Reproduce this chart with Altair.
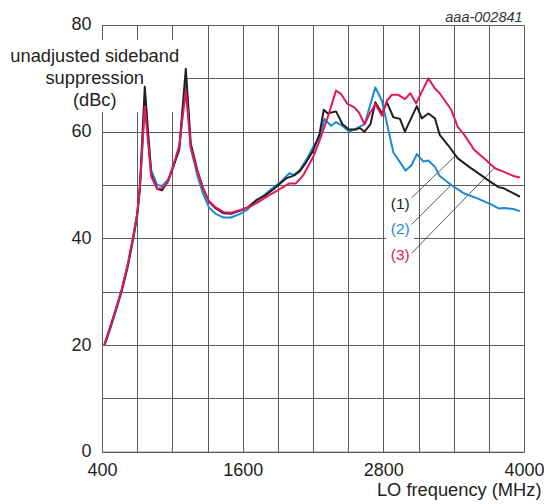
import altair as alt
import pandas as pd

FONT = "Liberation Sans"
INK = "#231f20"
GRID = "#5a5a5a"
C_BLACK = "#231f20"
C_BLUE = "#1a8bd0"
C_RED = "#e4175b"

# ---- series (1) black ----
BLACK_F = [420, 470, 520, 568, 620, 667, 700, 723, 765, 820, 871, 911, 961, 1010, 1059, 1115, 1157,
           1213, 1260, 1312, 1370, 1438, 1500, 1578, 1650, 1718, 1790, 1858, 1920, 1976, 2040, 2088,
           2140, 2200, 2256, 2292, 2326, 2396, 2452, 2508, 2564, 2598, 2640, 2690, 2732, 2788, 2830,
           2886, 2942, 2984, 3086, 3128, 3184, 3240, 3281, 3351, 3435, 3532, 3630, 3714, 3784, 3825,
           3895, 3965]
BLACK_V = [20.0, 23.3, 26.8, 30.3, 35.0, 40.3, 44.5, 49.7, 68.4, 51.9, 49.3, 49.0, 50.6, 53.6, 56.9,
           71.8, 57.8, 52.8, 49.5, 46.9, 45.6, 44.7, 44.6, 45.2, 45.9, 47.2, 48.0, 49.1, 50.3, 51.3,
           51.8, 52.6, 54.2, 56.4, 59.6, 64.1, 63.4, 63.8, 61.4, 60.4, 60.4, 60.7, 60.0, 61.4, 65.5,
           63.4, 65.5, 62.7, 62.4, 60.0, 64.8, 62.5, 63.4, 62.5, 59.4, 57.5, 55.0, 53.4, 51.9, 50.6,
           49.6, 49.4, 48.6, 47.8]

# ---- series (2) blue ----
BLUE_F = [420, 470, 520, 568, 620, 667, 700, 723, 765, 820, 871, 911, 961, 1010, 1059, 1115, 1157,
          1213, 1260, 1312, 1370, 1438, 1500, 1578, 1640, 1718, 1790, 1858, 1930, 1998, 2040, 2088,
          2150, 2200, 2256, 2298, 2354, 2396, 2452, 2508, 2564, 2640, 2732, 2788, 2844, 2886, 2942,
          2990, 3040, 3086, 3142, 3184, 3240, 3281, 3379, 3491, 3602, 3714, 3784, 3830, 3867, 3910,
          3965]
BLUE_V = [19.8, 23.0, 26.5, 30.0, 34.6, 39.8, 44.0, 49.0, 65.5, 52.8, 50.0, 49.8, 50.9, 53.5, 56.5,
          70.0, 57.0, 51.8, 48.5, 45.8, 44.6, 43.9, 43.9, 44.6, 45.4, 47.0, 48.2, 49.5, 50.7, 52.2,
          51.9, 52.8, 55.0, 57.1, 58.9, 62.4, 61.1, 61.8, 61.1, 60.0, 60.5, 61.4, 68.3, 65.8, 60.2,
          56.1, 54.3, 52.7, 53.7, 55.8, 54.4, 54.6, 53.4, 51.7, 50.0, 48.4, 47.5, 46.4, 45.6, 45.7,
          45.6, 45.5, 45.1]

# ---- series (3) red ----
RED_F = [420, 470, 520, 568, 620, 667, 700, 723, 765, 820, 871, 911, 961, 1010, 1059, 1115, 1157,
         1213, 1260, 1312, 1370, 1438, 1500, 1578, 1650, 1718, 1790, 1858, 1930, 1998, 2054, 2116,
         2200, 2256, 2326, 2396, 2438, 2494, 2550, 2592, 2640, 2682, 2732, 2788, 2830, 2872, 2928,
         2984, 3030, 3080, 3184, 3240, 3281, 3379, 3435, 3491, 3574, 3658, 3756, 3825, 3909, 3965]
RED_V = [20.0, 23.4, 26.9, 30.4, 35.2, 40.4, 44.6, 49.7, 64.7, 51.6, 49.3, 49.4, 50.5, 53.8, 57.4,
         67.8, 57.0, 52.6, 49.5, 47.0, 45.8, 44.9, 44.8, 45.3, 45.8, 46.6, 47.6, 48.5, 49.4, 50.3,
         50.3, 51.8, 55.2, 58.3, 62.7, 67.7, 67.1, 65.2, 64.6, 63.6, 61.4, 63.3, 65.2, 63.0, 65.8,
         66.9, 66.9, 66.1, 67.2, 65.3, 70.0, 68.1, 67.2, 64.1, 60.9, 59.4, 56.6, 55.0, 53.1, 52.5,
         51.7, 51.4]

# ---- axes ----
GRID_X = list(range(400, 4001, 300))
GRID_Y = list(range(0, 81, 10))
X_LABELS = [400, 1600, 2800, 4000]
Y_LABELS = [0, 20, 40, 60, 80]
X_TITLE = "LO frequency (MHz)"

# ---- annotations ----
Y_TITLE_LINES = ["unadjusted sideband", "suppression", "(dBc)"]
Y_TITLE_X = [338, 338, 338]
Y_TITLE_Y = [73.1, 68.95, 64.75]
CODE_TEXT = ["aaa-002841"]
CODE_X = [4000]
CODE_Y = [80.57]
SER_LABELS = ["(1)", "(2)", "(3)"]
SER_COLORS = [C_BLACK, C_BLUE, C_RED]
SER_LABEL_X = [2944, 2944, 2944]
SER_LABEL_Y = [46.4, 41.75, 36.9]
LEAD_X1 = [3041, 3041, 3041]
LEAD_Y1 = [47.6, 42.6, 37.2]
LEAD_X2 = [3406, 3379, 3751]
LEAD_Y2 = [55.3, 50.0, 53.25]
BOX_X1 = [380, 2825]
BOX_X2 = [1125, 3063]
BOX_Y1 = [63.7, 34.0]
BOX_Y2 = [77.2, 49.0]

xs = alt.Scale(domain=[400, 4000], nice=False, zero=False)
ys = alt.Scale(domain=[0, 80], nice=False, zero=False)

x_lab = "[" + ",".join(str(v) for v in X_LABELS) + "]"
y_lab = "[" + ",".join(str(v) for v in Y_LABELS) + "]"

x_axis = alt.Axis(values=GRID_X, format="d",
                  labelExpr=f"indexof({x_lab}, datum.value) >= 0 ? datum.label : ''",
                  grid=True, gridColor=GRID, gridWidth=1, domainColor=GRID, domainWidth=1,
                  ticks=False, tickSize=0, labelPadding=10, labelFlush=False, labelOverlap=False,
                  labelFont=FONT, labelFontSize=18, labelColor=INK,
                  title=X_TITLE, titleX=439, titleY=44.2, titleAlign="right",
                  titleBaseline="alphabetic", titleFont=FONT, titleFontSize=18.3,
                  titleFontWeight="normal", titleColor=INK)
y_axis = alt.Axis(values=GRID_Y, format="d",
                  labelExpr=f"indexof({y_lab}, datum.value) >= 0 ? datum.label : ''",
                  grid=True, gridColor=GRID, gridWidth=1, domainColor=GRID, domainWidth=1,
                  ticks=False, tickSize=0, labelPadding=11, labelFlush=False, labelOverlap=False,
                  labelFont=FONT, labelFontSize=18, labelColor=INK, title=None)


def X(field):
    return alt.X(field, scale=xs, axis=x_axis)


def Y(field):
    return alt.Y(field, scale=ys, axis=y_axis)


def line_layer(f, v, color):
    df = pd.DataFrame({"f": f, "v": v})
    return alt.Chart(df).mark_line(color=color, strokeWidth=2, strokeJoin="round").encode(
        x=X("f:Q"), y=Y("v:Q"))


box_df = pd.DataFrame({"x1": BOX_X1, "x2": BOX_X2, "y1": BOX_Y1, "y2": BOX_Y2})
boxes = alt.Chart(box_df).mark_rect(color="white", opacity=1).encode(
    x=X("x1:Q"), x2="x2:Q", y=Y("y1:Q"), y2="y2:Q")

lead_df = pd.DataFrame({"x1": LEAD_X1, "x2": LEAD_X2, "y1": LEAD_Y1, "y2": LEAD_Y2})
leads = alt.Chart(lead_df).mark_rule(color="#333333", strokeWidth=0.8).encode(
    x=X("x1:Q"), x2="x2:Q", y=Y("y1:Q"), y2="y2:Q")

ytitle_df = pd.DataFrame({"x": Y_TITLE_X, "y": Y_TITLE_Y, "t": Y_TITLE_LINES})
ytitle = alt.Chart(ytitle_df).mark_text(align="center", baseline="alphabetic", font=FONT,
                                        fontSize=18.3, color=INK).encode(
    x=X("x:Q"), y=Y("y:Q"), text="t:N")

code_df = pd.DataFrame({"x": CODE_X, "y": CODE_Y, "t": CODE_TEXT})
code = alt.Chart(code_df).mark_text(align="right", baseline="alphabetic", font=FONT,
                                    fontSize=14.5, fontStyle="italic", color="#333333",
                                    dx=-1.4).encode(
    x=X("x:Q"), y=Y("y:Q"), text="t:N")

ser_df = pd.DataFrame({"x": SER_LABEL_X, "y": SER_LABEL_Y, "t": SER_LABELS, "c": SER_COLORS})
ser = alt.Chart(ser_df).mark_text(align="center", baseline="middle", font=FONT,
                                  fontSize=15.5).encode(
    x=X("x:Q"), y=Y("y:Q"), text="t:N", color=alt.Color("c:N", scale=None))

chart = alt.layer(
    boxes,
    leads,
    line_layer(BLUE_F, BLUE_V, C_BLUE),
    line_layer(BLACK_F, BLACK_V, C_BLACK),
    line_layer(RED_F, RED_V, C_RED),
    ytitle, code, ser,
).properties(
    width=422, height=426.7,
    padding={"left": 94, "top": 17, "right": 20, "bottom": 48},
    autosize=alt.AutoSizeParams(type="none"),
    background="white",
).configure_view(strokeWidth=0)

chart.save("out.html", embed_options={"renderer": "svg", "actions": False})
